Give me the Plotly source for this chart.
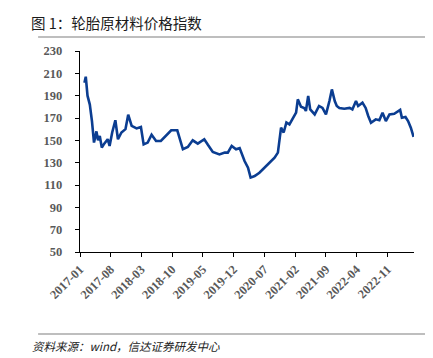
import plotly.graph_objects as go

dates = [
    "2017-02-01", "2017-02-10", "2017-02-22", "2017-03-10", "2017-03-25", "2017-04-08",
    "2017-04-25", "2017-05-06", "2017-05-18", "2017-06-01", "2017-06-18", "2017-07-12",
    "2017-07-25", "2017-08-12", "2017-09-03", "2017-09-21", "2017-10-15", "2017-11-12",
    "2017-12-01", "2017-12-25", "2018-01-28", "2018-02-27", "2018-03-18", "2018-04-15",
    "2018-05-12", "2018-06-12", "2018-07-15", "2018-08-18", "2018-09-25", "2018-11-06",
    "2018-11-21", "2018-12-15", "2019-01-18", "2019-02-21", "2019-03-28", "2019-05-12",
    "2019-06-06", "2019-07-10", "2019-08-25", "2019-10-01", "2019-10-22", "2019-11-18",
    "2019-12-18", "2020-01-12", "2020-02-15", "2020-03-10", "2020-03-28", "2020-04-25",
    "2020-05-28", "2020-07-01", "2020-07-25", "2020-09-10", "2020-10-03", "2020-10-15",
    "2020-10-25", "2020-11-12", "2020-12-01", "2020-12-22", "2021-01-15", "2021-02-06",
    "2021-02-18", "2021-03-12", "2021-04-03", "2021-04-15", "2021-05-01", "2021-05-15",
    "2021-06-15", "2021-07-15", "2021-08-08", "2021-09-01", "2021-09-25", "2021-10-12",
    "2021-11-01", "2021-11-15", "2021-12-03", "2022-01-06", "2022-02-12", "2022-03-03",
    "2022-03-28", "2022-04-12", "2022-05-12", "2022-06-03", "2022-06-21", "2022-07-10",
    "2022-08-12", "2022-09-06", "2022-09-28", "2022-10-21", "2022-11-15", "2022-12-18",
    "2023-01-28", "2023-02-09", "2023-03-06", "2023-03-24", "2023-04-12", "2023-05-01",
]
values = [
    201.6, 207, 190, 182, 167, 148,
    158, 150, 154, 143.5, 147, 151,
    145, 157, 168, 151, 157, 160,
    173, 163, 160.7, 162, 146.4, 148,
    155, 149.4, 149.4, 154, 159, 159,
    152.4, 142, 144, 150, 147, 151,
    146, 139.6, 137.4, 139, 139, 145,
    142, 143, 131.5, 125.5, 116.6, 118,
    121, 125.5, 129, 134.5, 139, 151,
    161.3, 157, 166, 164.3, 170, 174.8,
    186.7, 180, 179, 176.3, 189.7, 177.7,
    173.2, 180.8, 179, 173.2, 185.2, 195.6,
    185.2, 180.8, 179, 178.3, 179, 177.7,
    185.2, 180.8, 183.7, 179, 171.8, 165.8,
    168.8, 168, 174.8, 167.3, 173.2, 173.8,
    177.2, 170.3, 170.9, 167.3, 161.3, 153,
]

title_text = "图 1：轮胎原材料价格指数"
source_text = "资料来源：wind，信达证券研发中心"
y_ticks = [50, 70, 90, 110, 130, 150, 170, 190, 210, 230]

fig = go.Figure()
fig.add_trace(go.Scatter(
    x=dates, y=values, mode="lines",
    line=dict(color="#0b3d91", width=2.6),
    showlegend=False,
))

tick_font = dict(family="Liberation Serif", size=12.5, color="#595959", weight="bold")

fig.update_layout(
    width=433, height=358,
    margin=dict(l=72, r=27, t=43, b=114),
    paper_bgcolor="white", plot_bgcolor="white",
    xaxis=dict(
        type="date",
        range=["2017-01-01", "2023-05-04"],
        tick0="2017-01-01", dtick="M7", tickformat="%Y-%m",
        tickangle=-45,
        showline=True, linecolor="black", linewidth=1.3,
        ticks="outside", ticklen=4, tickcolor="black",
        showgrid=False, zeroline=False,
        tickfont=tick_font,
    ),
    yaxis=dict(
        range=[50, 230],
        tickvals=y_ticks,
        showline=True, linecolor="black", linewidth=1.3,
        ticks="outside", ticklen=4, tickcolor="black",
        ticklabelstandoff=10,
        showgrid=False, zeroline=False,
        tickfont=tick_font,
    ),
    shapes=[
        dict(type="line", xref="paper", yref="paper",
             x0=-0.1255, x1=1.1, y0=1.0 + 14 / 201, y1=1.0 + 14 / 201,
             line=dict(color="#7f7f7f", width=1.2)),
        dict(type="line", xref="paper", yref="paper",
             x0=-0.1255, x1=1.1, y0=-82 / 201, y1=-82 / 201,
             line=dict(color="#7f7f7f", width=1.2)),
    ],
    annotations=[
        dict(text=title_text, xref="paper", yref="paper",
             x=-(72 - 21) / 334, y=1.0 + (43 - 14) / 201, xanchor="left", yanchor="middle",
             showarrow=False,
             font=dict(family="Noto Sans CJK SC", size=14.5, color="#1a1a1a", weight="normal")),
        dict(text="<i>" + source_text + "</i>", xref="paper", yref="paper",
             x=-(72 - 22) / 334, y=-(338 - 244) / 201, xanchor="left", yanchor="middle",
             showarrow=False,
             font=dict(family="Noto Sans CJK SC", size=11.5, color="#222222")),
    ],
)

fig.write_html("out.html")
